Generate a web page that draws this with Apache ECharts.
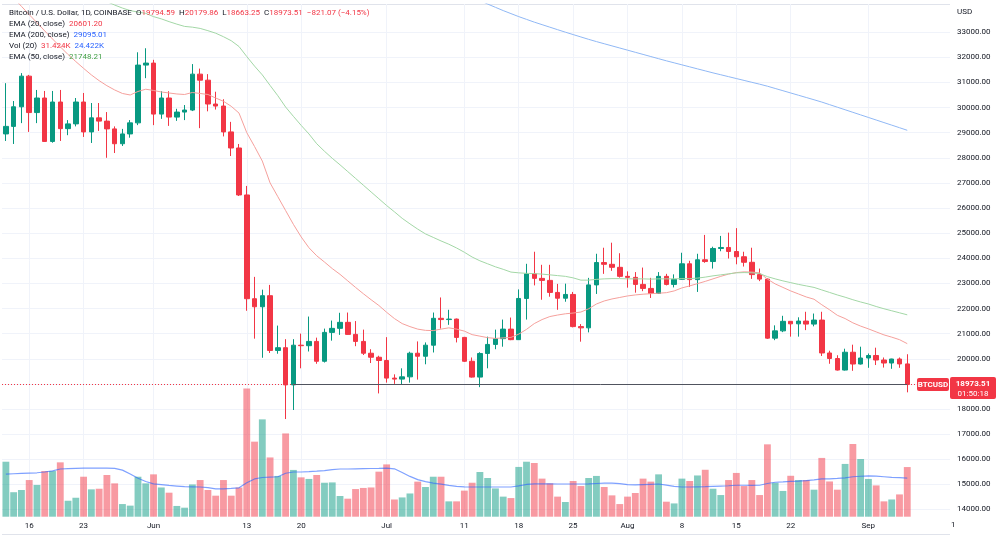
<!DOCTYPE html>
<html>
<head>
<meta charset="utf-8">
<script src="https://cdn.jsdelivr.net/npm/echarts@6/dist/echarts.min.js"></script>
<style>
  html, body { margin: 0; padding: 0; background: #ffffff; }
  #chart { width: 1000px; height: 538px; }
</style>
</head>
<body>
<div id="chart"></div>
<script>
// daily candles, Coinbase BTC/USD, 13 May - 6 Sep 2022 (plus a few empty days on the right)
var firstDay = Date.UTC(2022, 4, 13);
var dayCount = 122;

var opens = [28950,29250,30030,31250,29800,30380,28650,30220,29160,29350,
  30220,29030,29590,29460,29150,28560,28950,29390,31690,31770,
  29740,30380,29620,29820,29900,31330,31090,30140,30060,29030,
  28390,26520,22390,22070,22510,20330,20440,18960,20540,20520,
  20690,19900,21050,21210,21450,20970,20690,20220,20060,19930,
  19230,19190,19280,20220,20100,20540,21610,21560,21580,20850,
  19900,19270,20210,20570,20800,21180,20760,22400,23380,23200,
  23120,22640,22410,22560,21280,21230,22940,23830,23760,23640,
  23280,23240,22960,22800,22600,23280,22960,23160,23780,23150,
  23940,23870,24390,24430,24270,24060,23840,23350,23170,20820,
  21110,21490,21390,21500,21380,21540,20230,20010,19550,20260,
  19790,20030,20130,19950,19830,19990,19794.59];

var closes = [29250,30030,31250,29800,30380,28650,30220,29160,29350,30220,
  29030,29590,29460,29150,28560,28950,29390,31690,31770,29740,
  30380,29620,29820,29900,31330,31090,30140,30060,29030,28390,
  26520,22390,22070,22510,20330,20440,18960,20540,20520,20690,
  19900,21050,21210,21450,20970,20690,20220,20060,19930,19230,
  19190,19280,20220,20100,20540,21610,21560,21580,20850,19900,
  19270,20210,20570,20800,21180,20760,22400,23380,23200,23120,
  22640,22410,22560,21280,21230,22940,23830,23760,23640,23280,
  23240,22960,22800,22600,23280,22960,23160,23780,23150,23940,
  23870,24390,24430,24270,24060,23840,23350,23170,20820,21110,
  21490,21390,21500,21380,21540,20230,20010,19550,20260,19790,
  20030,20130,19950,19830,19990,19794.59,18973.51];

var highs = [30970,30260,31370,31300,30700,30660,30660,30700,29500,30380,
  30580,30180,30180,29820,29250,29150,29500,32200,32360,31900,
  30650,30650,29950,30100,31730,31550,31330,30630,30330,29430,
  28550,26880,23260,22750,22940,21320,20780,20780,21000,21680,
  20840,21200,21520,21830,21840,21500,21160,20380,20120,20860,
  19380,19620,20280,20690,20650,21840,22440,21950,21600,20870,
  20050,20260,20880,21160,21560,21640,22760,23780,24260,23740,
  23740,22980,22990,22660,21380,23220,24180,24420,24620,24200,
  23480,23450,23630,23220,23450,23380,23360,24220,23900,24180,
  24930,24460,24890,25020,25200,24260,24420,23590,23200,21330,
  21710,21500,21650,21870,21800,21870,20320,20140,20400,20560,
  20480,20210,20440,20050,20000,20050,20179.86];

var lows = [28670,28550,29380,29030,29380,28630,28600,28670,28900,29250,
  28830,28590,29070,28000,28190,28470,28800,29300,31170,29300,
  29550,29270,29470,29500,29860,29180,29850,29920,28850,28070,
  26480,21910,20800,20040,20230,20200,17600,17960,19620,20290,
  19800,19850,20720,20950,20960,20500,20150,19830,18620,19050,
  19000,18990,19050,19170,19780,20250,21200,21350,20650,19870,
  19250,18870,19620,20380,20480,20740,20750,21560,22920,22350,
  22470,21950,22270,21250,20680,21050,22580,23380,23500,23230,
  22830,22630,22690,22420,22580,22920,22840,23140,22860,22660,
  23820,23590,24280,23990,23760,23670,23180,23090,20790,20740,
  21060,20880,20880,21140,21290,20110,19800,19530,19530,19520,
  19770,19640,19750,19650,19600,19640,18663.25];

// volume in thousands of BTC
var volumes = [34.8,15.5,16.9,23.2,20.1,28.9,28.9,34.4,10.1,12.0,
  25.3,17.3,17.7,26.4,21.1,8.0,7.0,25.3,21.1,26.8,
  18.5,15.2,6.8,5.7,20.4,23.2,16.9,13.3,23.2,13.3,
  18.5,81.2,47.5,61.6,37.5,25.8,52.7,29.6,24.9,23.9,
  26.4,21.5,21.7,13.1,11.4,17.5,18.2,18.5,28.5,33.1,
  10.9,12.2,14.7,22.2,18.8,25.3,25.3,9.7,9.7,16.5,
  21.5,28.3,24.5,17.9,12.7,11.8,31.5,34.8,34.0,24.1,
  21.1,12.7,9.3,22.6,19.4,24.5,25.8,18.8,13.5,8.0,
  12.7,15.0,24.1,22.2,26.8,9.5,8.4,24.1,22.6,26.1,
  29.7,17.7,13.7,23.2,27.7,19.4,23.2,13.7,45.8,21.5,
  16.3,25.9,23.2,23.2,17.1,37.2,22.3,17.1,33.4,46.0,
  36.5,23.9,19.8,9.7,10.9,14.1,31.424];

var volMa = [27.0,27.2,27.4,27.6,27.8,28.3,29.0,30.2,30.4,30.6,
  30.8,30.8,30.7,30.8,30.6,29.5,27.0,24.3,22.3,20.8,
  20.3,19.8,19.4,19.0,18.9,18.8,18.4,17.6,17.6,17.9,
  18.3,21.5,23.9,24.8,25.1,25.3,27.5,28.3,28.3,28.5,
  28.8,29.2,29.8,30.2,30.2,30.3,30.4,30.5,30.6,30.8,
  30.3,28.0,25.5,23.5,22.2,21.3,20.6,19.8,19.2,18.9,
  18.8,18.8,18.8,18.8,18.8,18.8,19.5,20.4,20.8,20.8,
  20.8,20.7,20.7,20.7,20.7,20.8,21.0,21.2,21.3,20.9,
  20.3,20.1,20.3,20.5,20.7,20.0,19.2,18.8,18.8,18.9,
  19.0,19.2,19.4,19.6,19.9,19.9,19.8,19.9,21.0,21.8,
  22.0,22.3,22.5,22.8,23.3,23.9,24.0,24.2,24.6,25.3,
  25.6,25.9,25.7,25.3,24.9,24.7,24.422];

var ema20 = [34700,34360,34030,33700,33380,33050,32730,32420,32110,31830,
  31560,31300,31070,30870,30700,30560,30500,30640,30730,30680,
  30620,30580,30540,30520,30600,30560,30520,30380,30250,30050,
  29780,29000,28450,27870,27000,26450,25900,25350,24850,24420,
  24100,23850,23590,23360,23100,22840,22590,22350,22120,21850,
  21600,21400,21280,21180,21130,21120,21180,21230,21180,21100,
  20960,20900,20840,20810,20830,20850,20980,21170,21400,21560,
  21680,21740,21790,21820,21860,21990,22180,22300,22380,22440,
  22500,22540,22570,22590,22610,22630,22700,22820,22900,22990,
  23080,23180,23280,23370,23430,23460,23450,23420,23170,22980,
  22840,22700,22580,22460,22370,22150,21950,21730,21600,21430,
  21300,21190,21070,20950,20860,20760,20601.2];

var ema50 = [35950,35800,35680,35530,35400,35210,35100,34950,34820,34720,
  34580,34460,34340,34220,34080,33960,33860,33800,33750,33620,
  33530,33420,33320,33230,33200,33150,33060,32960,32820,32660,
  32430,32030,31650,31300,30880,30470,30020,29650,29290,28950,
  28560,28260,27980,27720,27450,27180,26910,26640,26370,26100,
  25850,25590,25370,25160,24970,24830,24690,24560,24410,24240,
  24050,23900,23780,23660,23560,23450,23420,23400,23390,23370,
  23340,23310,23280,23220,23130,23130,23160,23180,23190,23190,
  23180,23180,23180,23170,23180,23180,23180,23190,23190,23210,
  23250,23300,23340,23380,23420,23430,23420,23390,23270,23180,
  23100,23030,22960,22900,22840,22740,22640,22540,22450,22350,
  22260,22180,22080,21990,21910,21830,21748.21];

var ema200 = [40900,40810,40720,40630,40540,40450,40360,40270,40180,40090,
  40000,39910,39820,39730,39640,39550,39460,39370,39290,39210,
  39130,39050,38970,38890,38810,38730,38650,38570,38490,38410,
  38330,38250,38130,38010,37890,37760,37630,37480,37340,37200,
  37060,36920,36790,36660,36530,36400,36270,36140,36010,35880,
  35740,35600,35460,35320,35190,35060,34940,34810,34680,34540,
  34400,34260,34120,33990,33860,33740,33620,33510,33400,33300,
  33200,33100,33000,32905,32810,32715,32625,32540,32455,32370,
  32285,32200,32115,32030,31945,31860,31780,31700,31620,31540,
  31460,31380,31305,31230,31155,31080,31005,30930,30850,30760,
  30670,30580,30490,30400,30310,30218,30116,30014,29912,29810,
  29708,29606,29504,29402,29300,29198,29095.01];

var timeLabels = {
  '2022-05-16': '16', '2022-05-23': '23', '2022-06-01': 'Jun', '2022-06-13': '13',
  '2022-06-20': '20', '2022-07-01': 'Jul', '2022-07-11': '11', '2022-07-18': '18',
  '2022-07-25': '25', '2022-08-01': 'Aug', '2022-08-08': '8', '2022-08-15': '15',
  '2022-08-22': '22', '2022-09-01': 'Sep'
};

var priceMin = 13000;
var priceMax = 34122;
var priceStep = 1000;
var volMax = 324.5;
var lastClose = closes[closes.length - 1];
var lineStartDay = '2022-06-19';

var upColor = '#089981';
var downColor = '#f23645';
var textColor = '#131722';
var gridColor = '#f0f3fa';
var FONT = 'Roboto, "Open Sans", sans-serif';

var dates = [];
for (var i = 0; i < dayCount; i++) {
  dates.push(new Date(firstDay + i * 86400000).toISOString().slice(0, 10));
}

var candles = opens.map(function(o, i) {
  return [o, closes[i], lows[i], highs[i]];
});

var volBars = volumes.map(function(v, i) {
  return {
    value: v,
    itemStyle: { color: closes[i] >= opens[i] ? 'rgba(8,153,129,0.5)' : 'rgba(242,54,69,0.5)' }
  };
});

// horizontal grid lines: 13000 acts as the bottom frame, 34000 is not drawn, the top edge is the frame
var splitColors = [];
for (var v = priceMin; v <= 34000; v += priceStep) {
  splitColors.push(v === priceMin ? '#e0e3eb' : (v === 34000 ? 'rgba(0,0,0,0)' : gridColor));
}
splitColors.push('#e0e3eb');

function isTimeTick(index, value) {
  return timeLabels[value] !== undefined;
}

function rich(parts) {
  return parts.map(function(p) { return '{' + p[0] + '|' + p[1] + '}'; }).join('');
}

var richStyles = {
  d: { fill: textColor, fontSize: 8, fontFamily: FONT },
  r: { fill: '#f23645', fontSize: 8, fontFamily: FONT },
  b: { fill: '#2962ff', fontSize: 8, fontFamily: FONT },
  g: { fill: '#43a047', fontSize: 8, fontFamily: FONT }
};

var header = [
  [13, [['d', 'Bitcoin / U.S. Dollar, 1D, COINBASE  O'], ['r', '19794.59'], ['d', '  H'], ['r', '20179.86'],
        ['d', '  L'], ['r', '18663.25'], ['d', '  C'], ['r', '18973.51'], ['r', '  \u2212821.07 (\u22124.15%)']]],
  [24, [['d', 'EMA (20, close)  '], ['r', ema20[ema20.length - 1].toFixed(2)]]],
  [35, [['d', 'EMA (200, close)  '], ['b', ema200[ema200.length - 1].toFixed(2)]]],
  [46, [['d', 'Vol (20)  '], ['r', volumes[volumes.length - 1].toFixed(3) + 'K'], ['d', '  '],
        ['b', volMa[volMa.length - 1].toFixed(3) + 'K']]],
  [57, [['d', 'EMA (50, close)  '], ['g', ema50[ema50.length - 1].toFixed(2)]]]
];

var graphics = header.map(function(row) {
  return {
    type: 'text', x: 9, y: row[0], z: 50,
    style: { text: rich(row[1]), rich: richStyles, verticalAlign: 'middle', fontSize: 8, fontFamily: FONT }
  };
});

graphics.push(
  { type: 'text', x: 957, y: 12, z: 50,
    style: { text: 'USD', fill: textColor, fontSize: 8, fontFamily: FONT, verticalAlign: 'middle' } },
  { type: 'text', x: 951, y: 525, z: 50,
    style: { text: '1', fill: textColor, fontSize: 8, fontFamily: FONT, verticalAlign: 'middle' } },
  { type: 'rect', z: 60, shape: { x: 917, y: 378, width: 32, height: 13, r: 2 }, style: { fill: downColor } },
  { type: 'text', x: 933, y: 384.5, z: 61,
    style: { text: 'BTCUSD', fill: '#ffffff', fontSize: 8, fontWeight: 'bold', fontFamily: FONT,
             align: 'center', verticalAlign: 'middle' } },
  { type: 'rect', z: 60, shape: { x: 950, y: 377, width: 46, height: 22, r: 2 }, style: { fill: downColor } },
  { type: 'text', x: 973, y: 383.5, z: 61,
    style: { text: lastClose.toFixed(2), fill: '#ffffff', fontSize: 8, fontWeight: 'bold', fontFamily: FONT,
             align: 'center', verticalAlign: 'middle' } },
  { type: 'text', x: 973, y: 393.5, z: 61,
    style: { text: '01:50:18', fill: '#ffffff', fontSize: 8, fontFamily: FONT,
             align: 'center', verticalAlign: 'middle' } }
);

var chart = echarts.init(document.getElementById('chart'));

var option = {
  animation: false,
  backgroundColor: '#ffffff',
  textStyle: { fontFamily: FONT },
  grid: [
    { left: 2, width: 948, top: 4, height: 530.6 },
    { left: 2, width: 948, top: 4, height: 512.7 },
    { left: 5.885, width: 940.17, top: 4, height: 512.7 }
  ],
  xAxis: [
    { type: 'category', gridIndex: 0, data: dates, boundaryGap: true,
      axisLine: { show: false }, axisTick: { show: false }, axisLabel: { show: false }, splitLine: { show: false } },
    { type: 'category', gridIndex: 1, data: dates, boundaryGap: true,
      axisLine: { show: false }, axisTick: { show: false }, axisLabel: { show: false }, splitLine: { show: false } },
    { type: 'category', gridIndex: 2, data: dates, boundaryGap: false,
      axisLine: { show: false }, axisTick: { show: false },
      axisLabel: {
        interval: isTimeTick, margin: 5, fontSize: 8, color: textColor,
        formatter: function(v) { return timeLabels[v] || ''; }
      },
      splitLine: { show: true, interval: isTimeTick, lineStyle: { color: gridColor, width: 1 } } }
  ],
  yAxis: [
    { type: 'value', gridIndex: 0, position: 'right', min: priceMin, max: priceMax, interval: priceStep,
      axisLine: { show: false }, axisTick: { show: false },
      axisLabel: {
        margin: 7, fontSize: 8, color: textColor,
        formatter: function(v) { return (v >= 14000 && v <= 33000 && v % 1000 === 0) ? v.toFixed(2) : ''; }
      },
      splitLine: { show: true, lineStyle: { color: splitColors, width: 1 } } },
    { type: 'value', gridIndex: 1, min: 0, max: volMax, show: false },
    { type: 'value', gridIndex: 2, show: false }
  ],
  series: [
    { name: 'Volume', type: 'bar', xAxisIndex: 1, yAxisIndex: 1, data: volBars, barWidth: '88%', z: 1 },
    { name: 'Vol MA', type: 'line', xAxisIndex: 1, yAxisIndex: 1, data: volMa, showSymbol: false, z: 2,
      lineStyle: { color: 'rgba(41,98,255,0.6)', width: 1.2 } },
    { name: 'BTCUSD', type: 'candlestick', xAxisIndex: 0, yAxisIndex: 0, data: candles, barWidth: 5, z: 3,
      itemStyle: { color: upColor, color0: downColor, borderColor: upColor, borderColor0: downColor, borderWidth: 1 },
      markLine: {
        silent: true, symbol: ['none', 'none'], label: { show: false },
        data: [
          { yAxis: lastClose, lineStyle: { color: downColor, type: [1, 2], width: 1 } },
          [
            { coord: [lineStartDay, lastClose], lineStyle: { color: '#50535e', type: 'solid', width: 1 } },
            { coord: [dates[closes.length - 1], lastClose] }
          ]
        ]
      } },
    { name: 'EMA 20', type: 'line', xAxisIndex: 0, yAxisIndex: 0, data: ema20, showSymbol: false, z: 4,
      lineStyle: { color: '#f5a09c', width: 1 } },
    { name: 'EMA 50', type: 'line', xAxisIndex: 0, yAxisIndex: 0, data: ema50, showSymbol: false, z: 4,
      lineStyle: { color: '#a3d7a6', width: 1 } },
    { name: 'EMA 200', type: 'line', xAxisIndex: 0, yAxisIndex: 0, data: ema200, showSymbol: false, z: 4,
      lineStyle: { color: '#90b8f5', width: 1 } }
  ],
  graphic: graphics
};

chart.setOption(option);
window.addEventListener('resize', function() {
  chart.resize();
});
</script>
</body>
</html>
